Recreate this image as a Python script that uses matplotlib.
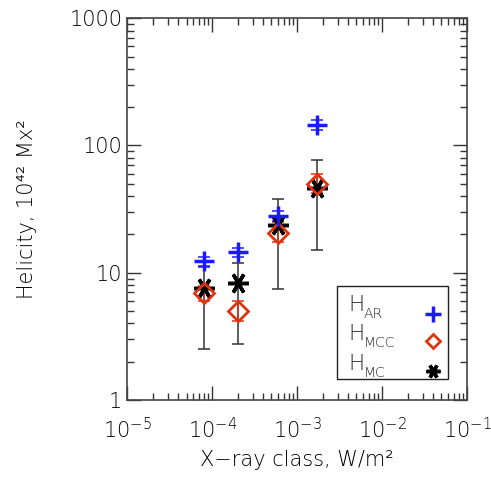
import matplotlib
matplotlib.use("Agg")
import matplotlib.pyplot as plt
import numpy as np
from matplotlib.ticker import LogLocator, NullFormatter
from matplotlib.patches import Rectangle

plt.rcParams['font.family'] = ['DejaVu Sans']
plt.rcParams['font.weight'] = 'light'
plt.rcParams['axes.labelweight'] = 'light'
plt.rcParams['mathtext.fontset'] = 'custom'
plt.rcParams['mathtext.rm'] = 'DejaVu Sans:light'
plt.rcParams['mathtext.it'] = 'DejaVu Sans:light'
plt.rcParams['mathtext.bf'] = 'DejaVu Sans:light'
plt.rcParams['mathtext.sf'] = 'DejaVu Sans:light'
plt.rcParams['mathtext.default'] = 'rm'

# X-ray class (W/m^2)
xray = [8.0e-5, 2.0e-4, 6.0e-4, 1.7e-3]

# Helicity of active region
h_ar = [12.3, 14.5, 28.0, 145.0]
h_ar_lo = [11.2, 13.2, 25.5, 132.0]
h_ar_hi = [13.2, 15.6, 30.5, 158.0]

# Helicity MCC
h_mcc = [6.9, 5.0, 20.5, 50.0]
h_mcc_lo = [6.0, 4.2, 17.5, 42.0]
h_mcc_hi = [7.9, 6.0, 25.0, 60.0]

# Helicity MC
h_mc = [7.6, 8.3, 23.5, 46.0]
h_mc_lo = [2.5, 2.75, 7.5, 15.0]
h_mc_hi = [11.0, 12.0, 38.0, 77.0]

legend_main = ['H', 'H', 'H']
legend_sub = ['AR', 'MCC', 'MC']

AR_C = '#1a1aff'
MCC_C = '#dd3311'
MC_C = 'black'

fig = plt.figure(figsize=(4.91, 4.79), dpi=100)
ax = fig.add_axes([0.259, 0.165, 0.692, 0.797])

def yerr(v, lo, hi):
    v = np.array(v); return [v - np.array(lo), np.array(hi) - v]

ax.errorbar(xray, h_mc, yerr=yerr(h_mc, h_mc_lo, h_mc_hi), fmt='none',
            ecolor='#333333', elinewidth=1.1, capsize=4, capthick=1.1, zorder=1)
ax.errorbar(xray, h_mcc, yerr=yerr(h_mcc, h_mcc_lo, h_mcc_hi), fmt='none',
            ecolor=MCC_C, elinewidth=1.1, capsize=4, capthick=1.1, zorder=2)
ax.errorbar(xray, h_ar, yerr=yerr(h_ar, h_ar_lo, h_ar_hi), fmt='none',
            ecolor=AR_C, elinewidth=1.1, capsize=4, capthick=1.1, zorder=2)

mk_mc = dict(linestyle='none', marker=(6, 2, 90), color=MC_C, markeredgewidth=2.5)
mk_mcc = dict(linestyle='none', marker='D', markerfacecolor='none',
              markeredgecolor=MCC_C, markeredgewidth=2)
mk_ar = dict(linestyle='none', marker='+', color=AR_C, markeredgewidth=2.5)

ax.plot(xray, h_mc, markersize=15, zorder=3, **mk_mc)
ax.plot(xray, h_mcc, markersize=10, zorder=4, **mk_mcc)
ax.plot(xray, h_ar, markersize=14, zorder=4, **mk_ar)

ax.set_xscale('log')
ax.set_yscale('log')
ax.set_xlim(1e-5, 1e-1)
ax.set_ylim(1, 1000)
ax.set_xticks([1e-5, 1e-4, 1e-3, 1e-2, 1e-1])
ax.set_yticks([1, 10, 100, 1000])
ax.set_yticklabels(['1', '10', '100', '1000'])
ax.xaxis.set_minor_locator(LogLocator(base=10, subs=np.arange(2, 10), numticks=20))
ax.yaxis.set_minor_locator(LogLocator(base=10, subs=np.arange(2, 10), numticks=20))
ax.xaxis.set_minor_formatter(NullFormatter())
ax.yaxis.set_minor_formatter(NullFormatter())
ax.tick_params(which='both', direction='in', top=True, right=True, labelsize=15,
               color='#333333', labelcolor='black')
ax.tick_params(which='major', length=10, width=1)
ax.tick_params(which='minor', length=5, width=1)
ax.tick_params(axis='x', pad=12)
for s in ax.spines.values():
    s.set_linewidth(1.2)
    s.set_color('#444444')

ax.set_xlabel('X−ray class, W/m²', fontsize=15, labelpad=6, color='black',
              fontweight='light')
ax.set_ylabel('Helicity, 10⁴² Mx²', fontsize=15, labelpad=23, color='black',
              fontweight='light')

# legend box (manual, IDL-style)
ax.add_patch(Rectangle((0.618, 0.055), 0.326, 0.243, transform=ax.transAxes,
                       facecolor='white', edgecolor='#222222', linewidth=1.0, zorder=5))
row_base = [0.233, 0.157, 0.079]
sub_base = [0.214, 0.138, 0.061]
mark_y = [0.225, 0.154, 0.076]
for i, (m, s) in enumerate(zip(legend_main, legend_sub)):
    ax.text(0.65, row_base[i], m, transform=ax.transAxes, fontsize=15.5,
            va='baseline', ha='left', color='#222222', zorder=6)
    ax.text(0.697, sub_base[i], s, transform=ax.transAxes, fontsize=10,
            va='baseline', ha='left', color='#222222', zorder=6)
for y, mk, ms in zip(mark_y, [mk_ar, mk_mcc, mk_mc], [11, 7, 10]):
    ax.plot([0.9], [y], transform=ax.transAxes, markersize=ms, zorder=6,
            clip_on=False, **mk)

fig.savefig('out.png', dpi=100)
